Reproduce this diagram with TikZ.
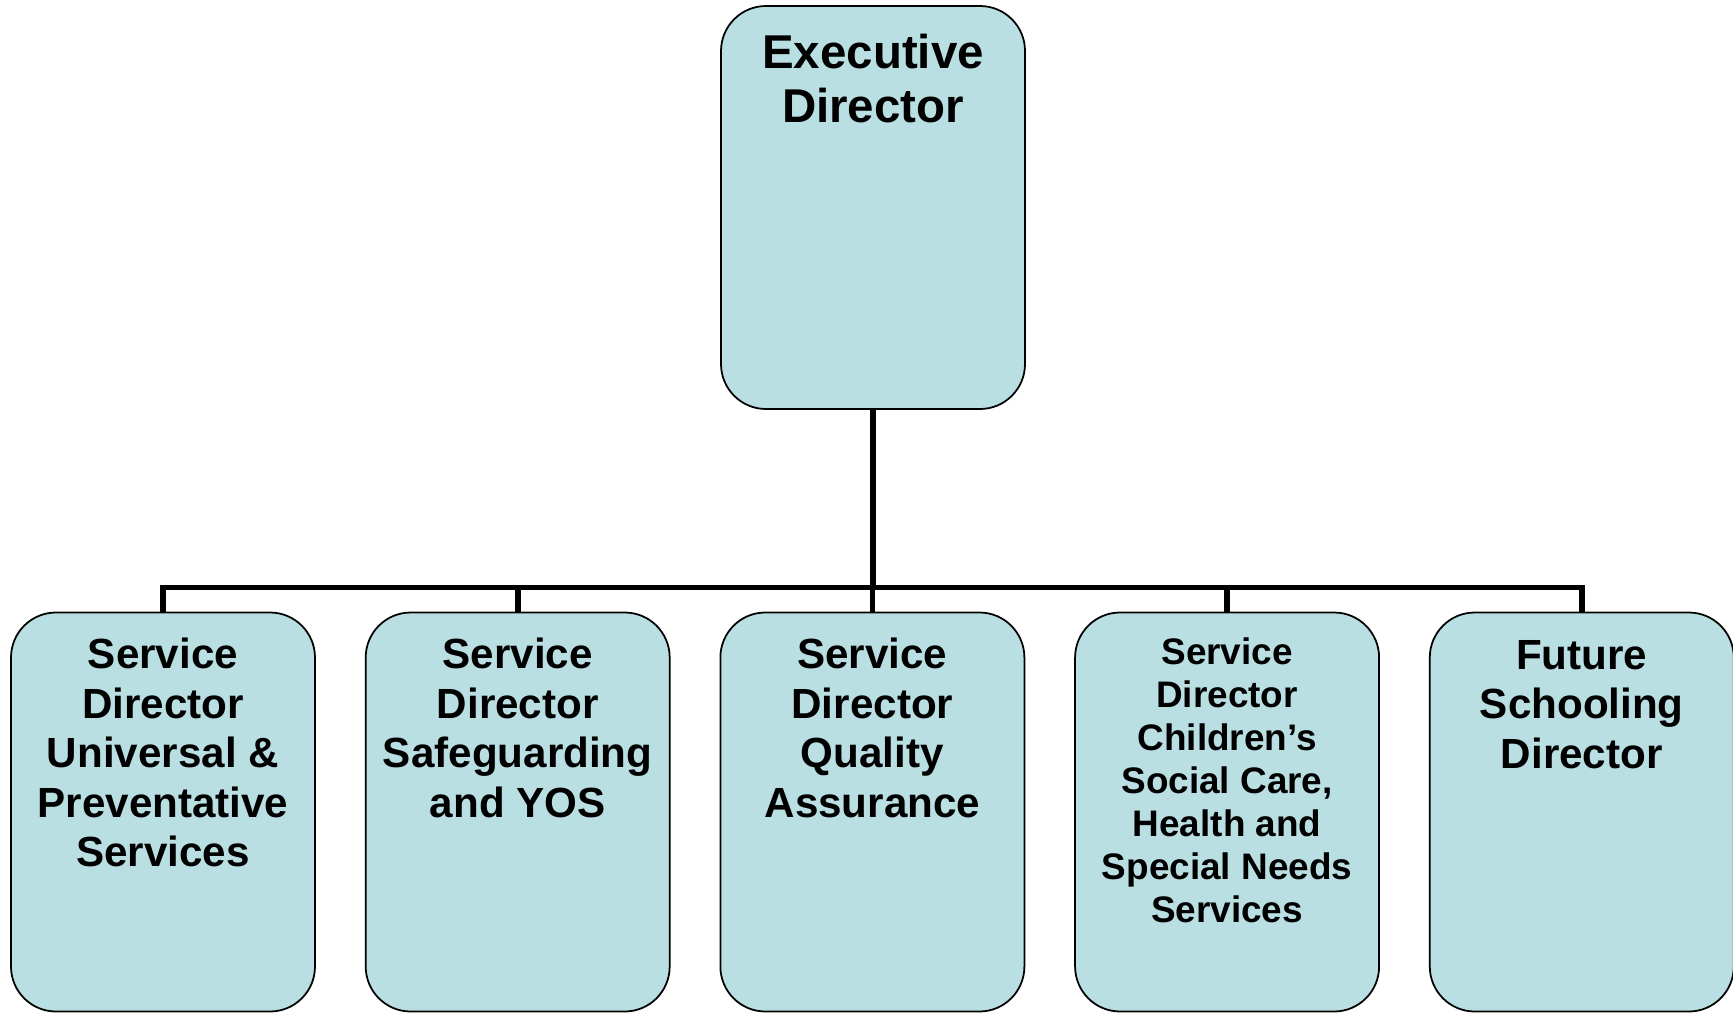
\documentclass[tikz,border=0pt]{standalone}
\usepackage{fontspec}
\setmainfont{Liberation Sans}
\usetikzlibrary{positioning}
\definecolor{boxblue}{RGB}{185,223,227}

\begin{document}
\begin{tikzpicture}[x=0.1mm,y=-0.1mm,
  post/.style={draw=black, line width=0.5pt, fill=boxblue, rounded corners=4.5mm,
    minimum width=30.4mm, minimum height=39.9mm, inner sep=0pt, outer sep=0pt},
  title/.style={anchor=north, align=center, inner sep=0pt,
    font=\bfseries\fontsize{12}{14.06}\selectfont},
  wire/.style={line width=1.6pt}]
\useasboundingbox (0,0) rectangle (1733,1012);
% top box
\node[post, minimum height=40.3mm] (exec) at (873,207.5) {};
% row of service directors
\node[post] (sd1) at (163,812) {};
\node[post, right=5.07mm of sd1] (sd2) {};
\node[post, right=5.07mm of sd2] (sd3) {};
\node[post, right=5.07mm of sd3] (sd4) {};
\node[post, right=5.07mm of sd4] (sd5) {};
% texts
\node[title, font=\bfseries\fontsize{13.5}{15.6}\selectfont] (t0) at ([yshift=-2.7mm]exec.north) {Executive\\Director};
\node[title] (t1) at ([yshift=-2.5mm]sd1.north) {Service\\Director\\Universal \&\\Preventative\\Services};
\node[title] (t2) at ([yshift=-2.5mm]sd2.north) {Service\\Director\\Safeguarding\\and YOS};
\node[title] (t3) at ([yshift=-2.5mm]sd3.north) {Service\\Director\\Quality\\Assurance};
\node[title, font=\bfseries\fontsize{10.5}{12.2}\selectfont] (t4) at ([yshift=-2.5mm]sd4.north) {Service\\Director\\Children’s\\Social Care,\\Health and\\Special Needs\\Services};
\node[title] (t5) at ([yshift=-2.7mm]sd5.north) {Future\\Schooling\\Director};
% connectors
\foreach \n in {1,...,5}
  \draw[wire] (exec.south) |- ([yshift=2.5mm]sd\n.north) -- (sd\n.north);
\end{tikzpicture}
\end{document}
